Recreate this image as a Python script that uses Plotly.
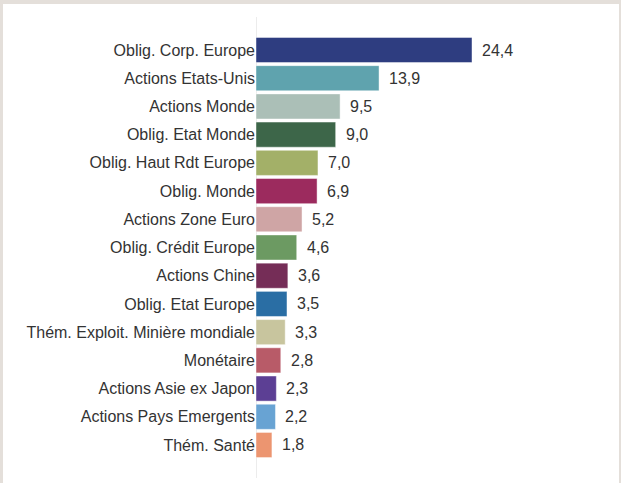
import plotly.graph_objects as go

# ---------------------------------------------------------------------------
# Data
# ---------------------------------------------------------------------------
categories = [
    "Oblig. Corp. Europe",
    "Actions Etats-Unis",
    "Actions Monde",
    "Oblig. Etat Monde",
    "Oblig. Haut Rdt Europe",
    "Oblig. Monde",
    "Actions Zone Euro",
    "Oblig. Crédit Europe",
    "Actions Chine",
    "Oblig. Etat Europe",
    "Thém. Exploit. Minière mondiale",
    "Monétaire",
    "Actions Asie ex Japon",
    "Actions Pays Emergents",
    "Thém. Santé",
]
values = [24.4, 13.9, 9.5, 9.0, 7.0, 6.9, 5.2, 4.6, 3.6, 3.5, 3.3, 2.8, 2.3, 2.2, 1.8]
colours = [
    "#2e3d80", "#5fa3ae", "#abbfb7", "#3d6649", "#a3b068",
    "#9c2b5e", "#cfa5a5", "#6c9a62", "#752d57", "#2a6ea4",
    "#c8c59e", "#b85b68", "#5c3f94", "#68a3d3", "#ec9570",
]
labels = [f"{v:.1f}".replace(".", ",") for v in values]

# ---------------------------------------------------------------------------
# Layout geometry (pixels)
# ---------------------------------------------------------------------------
W, H = 621, 483
M_L, M_R, M_T, M_B = 256, 21, 17, 5
PW = W - M_L - M_R
PH = H - M_T - M_B
_FRAME = "#e4dfda"
_TEXT = "#333333"
_FONT = "Liberation Sans, Arial, sans-serif"


def _px_x(px):
    return (px - M_L) / PW


def _px_y(py):
    return 1 - (py - M_T) / PH


fig = go.Figure(
    go.Bar(
        x=values,
        y=categories,
        orientation="h",
        marker={"color": colours, "line": {"color": "rgba(255,255,255,0.45)", "width": 1}},
        hoverinfo="skip",
    )
)

for cat, v, lab in zip(categories, values, labels):
    fig.add_annotation(
        x=v, y=cat, text=lab, showarrow=False,
        xanchor="left", xshift=8,
        font={"size": 16, "color": _TEXT, "family": _FONT},
    )

# light frame around the card
for x0, x1, y0, y1 in [(0, W, 0, 4), (0, 3, 0, H), (619, W, 0, H)]:
    fig.add_shape(
        type="rect", xref="paper", yref="paper",
        x0=_px_x(x0), x1=_px_x(x1), y0=_px_y(y1), y1=_px_y(y0),
        fillcolor=_FRAME, line={"width": 0}, layer="above",
    )

n = len(categories)
fig.update_layout(
    width=W,
    height=H,
    margin={"l": M_L, "r": M_R, "t": M_T, "b": M_B},
    paper_bgcolor="white",
    plot_bgcolor="white",
    showlegend=False,
    bargap=0.11,
    font={"family": _FONT, "size": 16, "color": _TEXT},
    xaxis={
        "range": [0, PW / (472 - 256) * 24.4],
        "showgrid": False,
        "showticklabels": False,
        "ticks": "",
        "zeroline": True,
        "zerolinecolor": "#ececec",
        "zerolinewidth": 1,
        "fixedrange": True,
    },
    yaxis={
        "type": "category",
        "range": [n - 1 + 1.17, -1.17],
        "showgrid": False,
        "ticks": "",
        "ticklabelstandoff": 0,
        "tickfont": {"size": 16, "color": _TEXT},
        "fixedrange": True,
    },
)

fig.write_html(
    "out.html",
    config={"displayModeBar": False},
    post_script="document.body.style.margin='0';",
)
